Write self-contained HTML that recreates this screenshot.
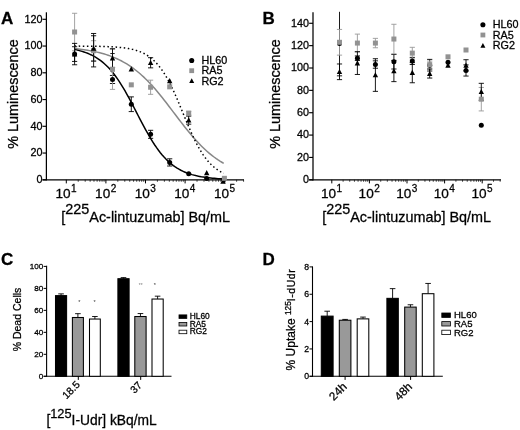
<!DOCTYPE html>
<html lang="en">
<head>
<meta charset="utf-8">
<title>Figure: luminescence, dead cells and uptake panels</title>
<style>
html,body{margin:0;padding:0;background:#fff;}
body{width:520px;height:430px;overflow:hidden;font-family:"Liberation Sans",sans-serif;}
svg{display:block;filter:blur(0.4px);}
svg text{stroke:#000;stroke-width:0.28px;paint-order:stroke;}
svg text.ns{stroke:none;}
</style>
</head>
<body>
<svg width="520" height="430" viewBox="0 0 520 430" font-family="'Liberation Sans', sans-serif">
<rect width="520" height="430" fill="#fff"/>
<text x="0.9" y="24.1" font-size="17" text-anchor="start" font-weight="bold" fill="#000" >A</text>
<line x1="46.4" y1="12.3" x2="46.4" y2="180.4" stroke="#000" stroke-width="1.25" />
<line x1="42.5" y1="179.8" x2="244" y2="179.8" stroke="#000" stroke-width="1.25" />
<line x1="42.5" y1="179.8" x2="46.4" y2="179.8" stroke="#000" stroke-width="1.15" />
<text x="42.4" y="183.1" font-size="10.8" text-anchor="end" font-weight="normal" fill="#000" >0</text>
<line x1="42.5" y1="153.05" x2="46.4" y2="153.05" stroke="#000" stroke-width="1.15" />
<text x="42.4" y="156.35" font-size="10.8" text-anchor="end" font-weight="normal" fill="#000" >20</text>
<line x1="42.5" y1="126.3" x2="46.4" y2="126.3" stroke="#000" stroke-width="1.15" />
<text x="42.4" y="129.6" font-size="10.8" text-anchor="end" font-weight="normal" fill="#000" >40</text>
<line x1="42.5" y1="99.55" x2="46.4" y2="99.55" stroke="#000" stroke-width="1.15" />
<text x="42.4" y="102.85" font-size="10.8" text-anchor="end" font-weight="normal" fill="#000" >60</text>
<line x1="42.5" y1="72.8" x2="46.4" y2="72.8" stroke="#000" stroke-width="1.15" />
<text x="42.4" y="76.1" font-size="10.8" text-anchor="end" font-weight="normal" fill="#000" >80</text>
<line x1="42.5" y1="46.05" x2="46.4" y2="46.05" stroke="#000" stroke-width="1.15" />
<text x="42.4" y="49.35" font-size="10.8" text-anchor="end" font-weight="normal" fill="#000" >100</text>
<line x1="42.5" y1="19.3" x2="46.4" y2="19.3" stroke="#000" stroke-width="1.15" />
<text x="42.4" y="22.6" font-size="10.8" text-anchor="end" font-weight="normal" fill="#000" >120</text>
<line x1="66.3" y1="179.8" x2="66.3" y2="183.4" stroke="#000" stroke-width="1" />
<line x1="78.22" y1="179.8" x2="78.22" y2="181.8" stroke="#000" stroke-width="0.7" />
<line x1="85.19" y1="179.8" x2="85.19" y2="181.8" stroke="#000" stroke-width="0.7" />
<line x1="90.14" y1="179.8" x2="90.14" y2="181.8" stroke="#000" stroke-width="0.7" />
<line x1="93.98" y1="179.8" x2="93.98" y2="181.8" stroke="#000" stroke-width="0.7" />
<line x1="97.11" y1="179.8" x2="97.11" y2="181.8" stroke="#000" stroke-width="0.7" />
<line x1="99.77" y1="179.8" x2="99.77" y2="181.8" stroke="#000" stroke-width="0.7" />
<line x1="102.06" y1="179.8" x2="102.06" y2="181.8" stroke="#000" stroke-width="0.7" />
<line x1="104.09" y1="179.8" x2="104.09" y2="181.8" stroke="#000" stroke-width="0.7" />
<line x1="105.9" y1="179.8" x2="105.9" y2="183.4" stroke="#000" stroke-width="1" />
<line x1="117.82" y1="179.8" x2="117.82" y2="181.8" stroke="#000" stroke-width="0.7" />
<line x1="124.79" y1="179.8" x2="124.79" y2="181.8" stroke="#000" stroke-width="0.7" />
<line x1="129.74" y1="179.8" x2="129.74" y2="181.8" stroke="#000" stroke-width="0.7" />
<line x1="133.58" y1="179.8" x2="133.58" y2="181.8" stroke="#000" stroke-width="0.7" />
<line x1="136.71" y1="179.8" x2="136.71" y2="181.8" stroke="#000" stroke-width="0.7" />
<line x1="139.37" y1="179.8" x2="139.37" y2="181.8" stroke="#000" stroke-width="0.7" />
<line x1="141.66" y1="179.8" x2="141.66" y2="181.8" stroke="#000" stroke-width="0.7" />
<line x1="143.69" y1="179.8" x2="143.69" y2="181.8" stroke="#000" stroke-width="0.7" />
<line x1="145.5" y1="179.8" x2="145.5" y2="183.4" stroke="#000" stroke-width="1" />
<line x1="157.42" y1="179.8" x2="157.42" y2="181.8" stroke="#000" stroke-width="0.7" />
<line x1="164.39" y1="179.8" x2="164.39" y2="181.8" stroke="#000" stroke-width="0.7" />
<line x1="169.34" y1="179.8" x2="169.34" y2="181.8" stroke="#000" stroke-width="0.7" />
<line x1="173.18" y1="179.8" x2="173.18" y2="181.8" stroke="#000" stroke-width="0.7" />
<line x1="176.31" y1="179.8" x2="176.31" y2="181.8" stroke="#000" stroke-width="0.7" />
<line x1="178.97" y1="179.8" x2="178.97" y2="181.8" stroke="#000" stroke-width="0.7" />
<line x1="181.26" y1="179.8" x2="181.26" y2="181.8" stroke="#000" stroke-width="0.7" />
<line x1="183.29" y1="179.8" x2="183.29" y2="181.8" stroke="#000" stroke-width="0.7" />
<line x1="185.1" y1="179.8" x2="185.1" y2="183.4" stroke="#000" stroke-width="1" />
<line x1="197.02" y1="179.8" x2="197.02" y2="181.8" stroke="#000" stroke-width="0.7" />
<line x1="203.99" y1="179.8" x2="203.99" y2="181.8" stroke="#000" stroke-width="0.7" />
<line x1="208.94" y1="179.8" x2="208.94" y2="181.8" stroke="#000" stroke-width="0.7" />
<line x1="212.78" y1="179.8" x2="212.78" y2="181.8" stroke="#000" stroke-width="0.7" />
<line x1="215.91" y1="179.8" x2="215.91" y2="181.8" stroke="#000" stroke-width="0.7" />
<line x1="218.57" y1="179.8" x2="218.57" y2="181.8" stroke="#000" stroke-width="0.7" />
<line x1="220.86" y1="179.8" x2="220.86" y2="181.8" stroke="#000" stroke-width="0.7" />
<line x1="222.89" y1="179.8" x2="222.89" y2="181.8" stroke="#000" stroke-width="0.7" />
<line x1="224.7" y1="179.8" x2="224.7" y2="183.4" stroke="#000" stroke-width="1" />
<line x1="236.62" y1="179.8" x2="236.62" y2="181.8" stroke="#000" stroke-width="0.7" />
<line x1="243.59" y1="179.8" x2="243.59" y2="181.8" stroke="#000" stroke-width="0.7" />
<text x="55.5" y="198.2" font-size="13.6">10<tspan font-size="10" dy="-6.3" dx="0.4">1</tspan></text>
<text x="95.1" y="198.2" font-size="13.6">10<tspan font-size="10" dy="-6.3" dx="0.4">2</tspan></text>
<text x="134.7" y="198.2" font-size="13.6">10<tspan font-size="10" dy="-6.3" dx="0.4">3</tspan></text>
<text x="174.3" y="198.2" font-size="13.6">10<tspan font-size="10" dy="-6.3" dx="0.4">4</tspan></text>
<text x="213.9" y="198.2" font-size="13.6">10<tspan font-size="10" dy="-6.3" dx="0.4">5</tspan></text>
<text transform="translate(18.2,94) rotate(-90)" font-size="14.4" text-anchor="middle">% Luminescence</text>
<text x="145.7" y="221.6" font-size="14.4" text-anchor="middle">[<tspan dy="-7.8" font-size="14.4">225</tspan><tspan dy="7.8">Ac-lintuzumab] Bq/mL</tspan></text>
<polyline points="74.6,48.62 76.46,48.82 78.33,49.02 80.19,49.25 82.05,49.49 83.92,49.74 85.78,50.01 87.65,50.31 89.51,50.62 91.37,50.96 93.24,51.32 95.1,51.71 96.96,52.12 98.83,52.56 100.69,53.03 102.56,53.54 104.42,54.07 106.28,54.65 108.15,55.26 110.01,55.91 111.88,56.61 113.74,57.35 115.6,58.13 117.47,58.97 119.33,59.85 121.19,60.79 123.06,61.79 124.92,62.84 126.78,63.95 128.65,65.13 130.51,66.36 132.38,67.67 134.24,69.04 136.1,70.47 137.97,71.98 139.83,73.55 141.69,75.2 143.56,76.91 145.42,78.7 147.29,80.55 149.15,82.47 151.01,84.45 152.88,86.5 154.74,88.61 156.61,90.78 158.47,93 160.33,95.27 162.2,97.58 164.06,99.93 165.92,102.32 167.79,104.74 169.65,107.17 171.51,109.63 173.38,112.09 175.24,114.55 177.11,117.01 178.97,119.46 180.83,121.89 182.7,124.3 184.56,126.67 186.42,129.01 188.29,131.31 190.15,133.57 192.02,135.77 193.88,137.92 195.74,140.01 197.61,142.04 199.47,144 201.33,145.9 203.2,147.73 205.06,149.49 206.93,151.19 208.79,152.81 210.65,154.36 212.52,155.85 214.38,157.26 216.25,158.61 218.11,159.89 219.97,161.11 221.84,162.26 223.7,163.35" fill="none" stroke="#878787" stroke-width="1.5"/>
<polyline points="74.6,46.1 76.46,46.11 78.33,46.12 80.19,46.13 82.05,46.14 83.92,46.15 85.78,46.16 87.65,46.18 89.51,46.2 91.37,46.22 93.24,46.25 95.1,46.28 96.96,46.31 98.83,46.35 100.69,46.39 102.56,46.44 104.42,46.49 106.28,46.56 108.15,46.63 110.01,46.71 111.88,46.81 113.74,46.92 115.6,47.05 117.47,47.19 119.33,47.35 121.19,47.54 123.06,47.75 124.92,48 126.78,48.27 128.65,48.59 130.51,48.95 132.38,49.36 134.24,49.83 136.1,50.36 137.97,50.96 139.83,51.64 141.69,52.41 143.56,53.29 145.42,54.27 147.29,55.38 149.15,56.63 151.01,58.03 152.88,59.59 154.74,61.33 156.61,63.26 158.47,65.39 160.33,67.75 162.2,70.32 164.06,73.13 165.92,76.17 167.79,79.45 169.65,82.96 171.51,86.69 173.38,90.62 175.24,94.73 177.11,99 178.97,103.39 180.83,107.86 182.7,112.38 184.56,116.9 186.42,121.39 188.29,125.81 190.15,130.1 192.02,134.26 193.88,138.23 195.74,142.01 197.61,145.57 199.47,148.91 201.33,152.01 203.2,154.87 205.06,157.5 206.93,159.91 208.79,162.1 210.65,164.07 212.52,165.86 214.38,167.46 216.25,168.9 218.11,170.18 219.97,171.32 221.84,172.34 223.7,173.23" fill="none" stroke="#000" stroke-width="1.5" stroke-dasharray="1.5 2.6"/>
<polyline points="74.6,49.55 76.46,49.94 78.33,50.37 80.19,50.85 82.05,51.38 83.92,51.96 85.78,52.6 87.65,53.31 89.51,54.09 91.37,54.95 93.24,55.9 95.1,56.93 96.96,58.07 98.83,59.31 100.69,60.66 102.56,62.13 104.42,63.73 106.28,65.45 108.15,67.32 110.01,69.33 111.88,71.49 113.74,73.8 115.6,76.26 117.47,78.87 119.33,81.62 121.19,84.53 123.06,87.56 124.92,90.73 126.78,94.01 128.65,97.39 130.51,100.86 132.38,104.39 134.24,107.98 136.1,111.59 137.97,115.22 139.83,118.83 141.69,122.4 143.56,125.92 145.42,129.37 147.29,132.73 149.15,135.98 151.01,139.11 152.88,142.11 154.74,144.97 156.61,147.69 158.47,150.26 160.33,152.68 162.2,154.95 164.06,157.07 165.92,159.04 167.79,160.87 169.65,162.56 171.51,164.12 173.38,165.56 175.24,166.88 177.11,168.09 178.97,169.2 180.83,170.21 182.7,171.13 184.56,171.97 186.42,172.73 188.29,173.42 190.15,174.05 192.02,174.62 193.88,175.13 195.74,175.6 197.61,176.02 199.47,176.39 201.33,176.74 203.2,177.04 205.06,177.32 206.93,177.57 208.79,177.8 210.65,178 212.52,178.18 214.38,178.35 216.25,178.5 218.11,178.63 219.97,178.75 221.84,178.85 223.7,178.95" fill="none" stroke="#000" stroke-width="1.5"/>
<line x1="74.6" y1="46.72" x2="74.6" y2="61.43" stroke="#000" stroke-width="0.9" />
<line x1="72" y1="46.72" x2="77.2" y2="46.72" stroke="#000" stroke-width="0.9" />
<line x1="72" y1="61.43" x2="77.2" y2="61.43" stroke="#000" stroke-width="0.9" />
<line x1="74.6" y1="13.28" x2="74.6" y2="50.73" stroke="#999999" stroke-width="0.9" />
<line x1="72" y1="13.28" x2="77.2" y2="13.28" stroke="#999999" stroke-width="0.9" />
<line x1="72" y1="50.73" x2="77.2" y2="50.73" stroke="#999999" stroke-width="0.9" />
<line x1="74.6" y1="43.38" x2="74.6" y2="64.78" stroke="#000" stroke-width="0.9" />
<line x1="72" y1="43.38" x2="77.2" y2="43.38" stroke="#000" stroke-width="0.9" />
<line x1="72" y1="64.78" x2="77.2" y2="64.78" stroke="#000" stroke-width="0.9" />
<polygon points="74.6,51.25 71.9,56.38 77.3,56.38" fill="#000"/>
<rect x="72.1" y="29.51" width="5" height="5" fill="#929292"/>
<circle cx="74.6" cy="54.08" r="2.5" fill="#000"/>
<line x1="93.6" y1="33.48" x2="93.6" y2="66.92" stroke="#000" stroke-width="0.9" />
<line x1="91" y1="33.48" x2="96.2" y2="33.48" stroke="#000" stroke-width="0.9" />
<line x1="91" y1="66.92" x2="96.2" y2="66.92" stroke="#000" stroke-width="0.9" />
<line x1="93.6" y1="40.7" x2="93.6" y2="60.76" stroke="#999999" stroke-width="0.9" />
<line x1="91" y1="40.7" x2="96.2" y2="40.7" stroke="#999999" stroke-width="0.9" />
<line x1="91" y1="60.76" x2="96.2" y2="60.76" stroke="#999999" stroke-width="0.9" />
<line x1="93.6" y1="35.75" x2="93.6" y2="61.16" stroke="#000" stroke-width="0.9" />
<line x1="91" y1="35.75" x2="96.2" y2="35.75" stroke="#000" stroke-width="0.9" />
<line x1="91" y1="61.16" x2="96.2" y2="61.16" stroke="#000" stroke-width="0.9" />
<circle cx="93.6" cy="50.2" r="2.5" fill="#000"/>
<rect x="91.1" y="48.23" width="5" height="5" fill="#929292"/>
<polygon points="93.6,45.64 90.9,50.77 96.3,50.77" fill="#000"/>
<line x1="112.5" y1="75.48" x2="112.5" y2="83.5" stroke="#000" stroke-width="0.9" />
<line x1="109.9" y1="75.48" x2="115.1" y2="75.48" stroke="#000" stroke-width="0.9" />
<line x1="109.9" y1="83.5" x2="115.1" y2="83.5" stroke="#000" stroke-width="0.9" />
<line x1="112.5" y1="49.26" x2="112.5" y2="89.39" stroke="#999999" stroke-width="0.9" />
<line x1="109.9" y1="49.26" x2="115.1" y2="49.26" stroke="#999999" stroke-width="0.9" />
<line x1="109.9" y1="89.39" x2="115.1" y2="89.39" stroke="#999999" stroke-width="0.9" />
<line x1="112.5" y1="48.73" x2="112.5" y2="67.45" stroke="#000" stroke-width="0.9" />
<line x1="109.9" y1="48.73" x2="115.1" y2="48.73" stroke="#000" stroke-width="0.9" />
<line x1="109.9" y1="67.45" x2="115.1" y2="67.45" stroke="#000" stroke-width="0.9" />
<circle cx="112.5" cy="79.49" r="2.5" fill="#000"/>
<rect x="110" y="66.82" width="5" height="5" fill="#929292"/>
<polygon points="112.5,55.27 109.8,60.4 115.2,60.4" fill="#000"/>
<line x1="131.3" y1="96.88" x2="131.3" y2="111.59" stroke="#000" stroke-width="0.9" />
<line x1="128.7" y1="96.88" x2="133.9" y2="96.88" stroke="#000" stroke-width="0.9" />
<line x1="128.7" y1="111.59" x2="133.9" y2="111.59" stroke="#000" stroke-width="0.9" />
<circle cx="131.3" cy="104.23" r="2.5" fill="#000"/>
<rect x="128.8" y="82.34" width="5" height="5" fill="#929292"/>
<polygon points="131.3,66.37 128.6,71.5 134,71.5" fill="#000"/>
<line x1="150.6" y1="130.31" x2="150.6" y2="138.34" stroke="#000" stroke-width="0.9" />
<line x1="148" y1="130.31" x2="153.2" y2="130.31" stroke="#000" stroke-width="0.9" />
<line x1="148" y1="138.34" x2="153.2" y2="138.34" stroke="#000" stroke-width="0.9" />
<line x1="150.6" y1="80.16" x2="150.6" y2="94.33" stroke="#999999" stroke-width="0.9" />
<line x1="148" y1="80.16" x2="153.2" y2="80.16" stroke="#999999" stroke-width="0.9" />
<line x1="148" y1="94.33" x2="153.2" y2="94.33" stroke="#999999" stroke-width="0.9" />
<line x1="150.6" y1="57.69" x2="150.6" y2="67.85" stroke="#000" stroke-width="0.9" />
<line x1="148" y1="57.69" x2="153.2" y2="57.69" stroke="#000" stroke-width="0.9" />
<line x1="148" y1="67.85" x2="153.2" y2="67.85" stroke="#000" stroke-width="0.9" />
<circle cx="150.6" cy="134.33" r="2.5" fill="#000"/>
<rect x="148.1" y="84.75" width="5" height="5" fill="#929292"/>
<polygon points="150.6,59.95 147.9,65.08 153.3,65.08" fill="#000"/>
<line x1="169.7" y1="158.8" x2="169.7" y2="166.02" stroke="#000" stroke-width="0.9" />
<line x1="167.1" y1="158.8" x2="172.3" y2="158.8" stroke="#000" stroke-width="0.9" />
<line x1="167.1" y1="166.02" x2="172.3" y2="166.02" stroke="#000" stroke-width="0.9" />
<circle cx="169.7" cy="162.41" r="2.5" fill="#000"/>
<rect x="167.2" y="84.34" width="5" height="5" fill="#929292"/>
<polygon points="169.7,78 167,83.13 172.4,83.13" fill="#000"/>
<line x1="188.7" y1="111.32" x2="188.7" y2="115.07" stroke="#999999" stroke-width="0.9" />
<line x1="186.1" y1="111.32" x2="191.3" y2="111.32" stroke="#999999" stroke-width="0.9" />
<line x1="186.1" y1="115.07" x2="191.3" y2="115.07" stroke="#999999" stroke-width="0.9" />
<line x1="188.7" y1="116.14" x2="188.7" y2="124.16" stroke="#000" stroke-width="0.9" />
<line x1="186.1" y1="116.14" x2="191.3" y2="116.14" stroke="#000" stroke-width="0.9" />
<line x1="186.1" y1="124.16" x2="191.3" y2="124.16" stroke="#000" stroke-width="0.9" />
<circle cx="188.7" cy="173.65" r="2.5" fill="#000"/>
<rect x="186.2" y="110.69" width="5" height="5" fill="#929292"/>
<polygon points="188.7,117.33 186,122.46 191.4,122.46" fill="#000"/>
<circle cx="206.7" cy="178.46" r="2.5" fill="#000"/>
<polygon points="206.7,170.02 204,175.15 209.4,175.15" fill="#000"/>
<circle cx="223.7" cy="179.4" r="2.5" fill="#000"/>
<polygon points="223,178.72 220.3,183.85 225.7,183.85" fill="#000"/>
<rect x="221.9" y="175.83" width="5" height="5" fill="#929292"/>
<line x1="110.3" y1="53.54" x2="114.7" y2="53.54" stroke="#000" stroke-width="0.9" />
<circle cx="191.7" cy="60.5" r="2.55" fill="#000"/>
<rect x="189.3" y="68.3" width="4.8" height="4.8" fill="#929292"/>
<polygon points="191.7,78.29 189.2,83.04 194.2,83.04" fill="#000"/>
<text x="201.4" y="64.1" font-size="10.8" text-anchor="start" font-weight="normal" fill="#000" >HL60</text>
<text x="201.4" y="74.3" font-size="10.8" text-anchor="start" font-weight="normal" fill="#000" >RA5</text>
<text x="201.4" y="84.5" font-size="10.8" text-anchor="start" font-weight="normal" fill="#000" >RG2</text>
<text x="262.4" y="24.1" font-size="17" text-anchor="start" font-weight="bold" fill="#000" >B</text>
<line x1="313" y1="12.3" x2="313" y2="180.4" stroke="#000" stroke-width="1.25" />
<line x1="309.1" y1="179.8" x2="501" y2="179.8" stroke="#000" stroke-width="1.25" />
<line x1="309.1" y1="179.8" x2="313" y2="179.8" stroke="#000" stroke-width="1.15" />
<text x="309" y="183.1" font-size="10.8" text-anchor="end" font-weight="normal" fill="#000" >0</text>
<line x1="309.1" y1="157.44" x2="313" y2="157.44" stroke="#000" stroke-width="1.15" />
<text x="309" y="160.74" font-size="10.8" text-anchor="end" font-weight="normal" fill="#000" >20</text>
<line x1="309.1" y1="135.08" x2="313" y2="135.08" stroke="#000" stroke-width="1.15" />
<text x="309" y="138.38" font-size="10.8" text-anchor="end" font-weight="normal" fill="#000" >40</text>
<line x1="309.1" y1="112.72" x2="313" y2="112.72" stroke="#000" stroke-width="1.15" />
<text x="309" y="116.02" font-size="10.8" text-anchor="end" font-weight="normal" fill="#000" >60</text>
<line x1="309.1" y1="90.36" x2="313" y2="90.36" stroke="#000" stroke-width="1.15" />
<text x="309" y="93.66" font-size="10.8" text-anchor="end" font-weight="normal" fill="#000" >80</text>
<line x1="309.1" y1="68" x2="313" y2="68" stroke="#000" stroke-width="1.15" />
<text x="309" y="71.3" font-size="10.8" text-anchor="end" font-weight="normal" fill="#000" >100</text>
<line x1="309.1" y1="45.64" x2="313" y2="45.64" stroke="#000" stroke-width="1.15" />
<text x="309" y="48.94" font-size="10.8" text-anchor="end" font-weight="normal" fill="#000" >120</text>
<line x1="309.1" y1="23.28" x2="313" y2="23.28" stroke="#000" stroke-width="1.15" />
<text x="309" y="26.58" font-size="10.8" text-anchor="end" font-weight="normal" fill="#000" >140</text>
<line x1="331.8" y1="179.8" x2="331.8" y2="183.4" stroke="#000" stroke-width="1" />
<line x1="343.12" y1="179.8" x2="343.12" y2="181.8" stroke="#000" stroke-width="0.7" />
<line x1="349.74" y1="179.8" x2="349.74" y2="181.8" stroke="#000" stroke-width="0.7" />
<line x1="354.44" y1="179.8" x2="354.44" y2="181.8" stroke="#000" stroke-width="0.7" />
<line x1="358.08" y1="179.8" x2="358.08" y2="181.8" stroke="#000" stroke-width="0.7" />
<line x1="361.06" y1="179.8" x2="361.06" y2="181.8" stroke="#000" stroke-width="0.7" />
<line x1="363.58" y1="179.8" x2="363.58" y2="181.8" stroke="#000" stroke-width="0.7" />
<line x1="365.76" y1="179.8" x2="365.76" y2="181.8" stroke="#000" stroke-width="0.7" />
<line x1="367.68" y1="179.8" x2="367.68" y2="181.8" stroke="#000" stroke-width="0.7" />
<line x1="369.4" y1="179.8" x2="369.4" y2="183.4" stroke="#000" stroke-width="1" />
<line x1="380.72" y1="179.8" x2="380.72" y2="181.8" stroke="#000" stroke-width="0.7" />
<line x1="387.34" y1="179.8" x2="387.34" y2="181.8" stroke="#000" stroke-width="0.7" />
<line x1="392.04" y1="179.8" x2="392.04" y2="181.8" stroke="#000" stroke-width="0.7" />
<line x1="395.68" y1="179.8" x2="395.68" y2="181.8" stroke="#000" stroke-width="0.7" />
<line x1="398.66" y1="179.8" x2="398.66" y2="181.8" stroke="#000" stroke-width="0.7" />
<line x1="401.18" y1="179.8" x2="401.18" y2="181.8" stroke="#000" stroke-width="0.7" />
<line x1="403.36" y1="179.8" x2="403.36" y2="181.8" stroke="#000" stroke-width="0.7" />
<line x1="405.28" y1="179.8" x2="405.28" y2="181.8" stroke="#000" stroke-width="0.7" />
<line x1="407" y1="179.8" x2="407" y2="183.4" stroke="#000" stroke-width="1" />
<line x1="418.32" y1="179.8" x2="418.32" y2="181.8" stroke="#000" stroke-width="0.7" />
<line x1="424.94" y1="179.8" x2="424.94" y2="181.8" stroke="#000" stroke-width="0.7" />
<line x1="429.64" y1="179.8" x2="429.64" y2="181.8" stroke="#000" stroke-width="0.7" />
<line x1="433.28" y1="179.8" x2="433.28" y2="181.8" stroke="#000" stroke-width="0.7" />
<line x1="436.26" y1="179.8" x2="436.26" y2="181.8" stroke="#000" stroke-width="0.7" />
<line x1="438.78" y1="179.8" x2="438.78" y2="181.8" stroke="#000" stroke-width="0.7" />
<line x1="440.96" y1="179.8" x2="440.96" y2="181.8" stroke="#000" stroke-width="0.7" />
<line x1="442.88" y1="179.8" x2="442.88" y2="181.8" stroke="#000" stroke-width="0.7" />
<line x1="444.6" y1="179.8" x2="444.6" y2="183.4" stroke="#000" stroke-width="1" />
<line x1="455.92" y1="179.8" x2="455.92" y2="181.8" stroke="#000" stroke-width="0.7" />
<line x1="462.54" y1="179.8" x2="462.54" y2="181.8" stroke="#000" stroke-width="0.7" />
<line x1="467.24" y1="179.8" x2="467.24" y2="181.8" stroke="#000" stroke-width="0.7" />
<line x1="470.88" y1="179.8" x2="470.88" y2="181.8" stroke="#000" stroke-width="0.7" />
<line x1="473.86" y1="179.8" x2="473.86" y2="181.8" stroke="#000" stroke-width="0.7" />
<line x1="476.38" y1="179.8" x2="476.38" y2="181.8" stroke="#000" stroke-width="0.7" />
<line x1="478.56" y1="179.8" x2="478.56" y2="181.8" stroke="#000" stroke-width="0.7" />
<line x1="480.48" y1="179.8" x2="480.48" y2="181.8" stroke="#000" stroke-width="0.7" />
<line x1="482.2" y1="179.8" x2="482.2" y2="183.4" stroke="#000" stroke-width="1" />
<line x1="493.52" y1="179.8" x2="493.52" y2="181.8" stroke="#000" stroke-width="0.7" />
<line x1="500.14" y1="179.8" x2="500.14" y2="181.8" stroke="#000" stroke-width="0.7" />
<text x="321" y="198.2" font-size="13.6">10<tspan font-size="10" dy="-6.3" dx="0.4">1</tspan></text>
<text x="358.6" y="198.2" font-size="13.6">10<tspan font-size="10" dy="-6.3" dx="0.4">2</tspan></text>
<text x="396.2" y="198.2" font-size="13.6">10<tspan font-size="10" dy="-6.3" dx="0.4">3</tspan></text>
<text x="433.8" y="198.2" font-size="13.6">10<tspan font-size="10" dy="-6.3" dx="0.4">4</tspan></text>
<text x="471.4" y="198.2" font-size="13.6">10<tspan font-size="10" dy="-6.3" dx="0.4">5</tspan></text>
<text transform="translate(279.5,94) rotate(-90)" font-size="14.4" text-anchor="middle">% Luminescence</text>
<text x="406.6" y="221.6" font-size="14.4" text-anchor="middle">[<tspan dy="-7.8" font-size="14.4">225</tspan><tspan dy="7.8">Ac-lintuzumab] Bq/mL</tspan></text>
<line x1="339.5" y1="11.8" x2="339.5" y2="75.83" stroke="#000" stroke-width="0.9" />
<line x1="336.9" y1="75.83" x2="342.1" y2="75.83" stroke="#000" stroke-width="0.9" />
<line x1="339.5" y1="29.43" x2="339.5" y2="55.14" stroke="#999999" stroke-width="0.9" />
<line x1="336.9" y1="29.43" x2="342.1" y2="29.43" stroke="#999999" stroke-width="0.9" />
<line x1="336.9" y1="55.14" x2="342.1" y2="55.14" stroke="#999999" stroke-width="0.9" />
<line x1="339.5" y1="63.98" x2="339.5" y2="79.63" stroke="#000" stroke-width="0.9" />
<line x1="336.9" y1="63.98" x2="342.1" y2="63.98" stroke="#000" stroke-width="0.9" />
<line x1="336.9" y1="79.63" x2="342.1" y2="79.63" stroke="#000" stroke-width="0.9" />
<circle cx="339.5" cy="43.4" r="2.5" fill="#000"/>
<rect x="337" y="39.79" width="5" height="5" fill="#929292"/>
<polygon points="339.5,68.98 336.8,74.11 342.2,74.11" fill="#000"/>
<line x1="357.4" y1="55.93" x2="357.4" y2="60.4" stroke="#000" stroke-width="0.9" />
<line x1="354.8" y1="55.93" x2="360" y2="55.93" stroke="#000" stroke-width="0.9" />
<line x1="354.8" y1="60.4" x2="360" y2="60.4" stroke="#000" stroke-width="0.9" />
<line x1="357.4" y1="34.12" x2="357.4" y2="52.01" stroke="#999999" stroke-width="0.9" />
<line x1="354.8" y1="34.12" x2="360" y2="34.12" stroke="#999999" stroke-width="0.9" />
<line x1="354.8" y1="52.01" x2="360" y2="52.01" stroke="#999999" stroke-width="0.9" />
<line x1="357.4" y1="51.68" x2="357.4" y2="74.48" stroke="#000" stroke-width="0.9" />
<line x1="354.8" y1="51.68" x2="360" y2="51.68" stroke="#000" stroke-width="0.9" />
<line x1="354.8" y1="74.48" x2="360" y2="74.48" stroke="#000" stroke-width="0.9" />
<circle cx="357.4" cy="58.16" r="2.5" fill="#000"/>
<rect x="354.9" y="40.57" width="5" height="5" fill="#929292"/>
<polygon points="357.4,60.26 354.7,65.39 360.1,65.39" fill="#000"/>
<line x1="375.4" y1="60.84" x2="375.4" y2="68.22" stroke="#000" stroke-width="0.9" />
<line x1="372.8" y1="60.84" x2="378" y2="60.84" stroke="#000" stroke-width="0.9" />
<line x1="372.8" y1="68.22" x2="378" y2="68.22" stroke="#000" stroke-width="0.9" />
<line x1="375.4" y1="38.37" x2="375.4" y2="47.76" stroke="#999999" stroke-width="0.9" />
<line x1="372.8" y1="38.37" x2="378" y2="38.37" stroke="#999999" stroke-width="0.9" />
<line x1="372.8" y1="47.76" x2="378" y2="47.76" stroke="#999999" stroke-width="0.9" />
<line x1="375.4" y1="58.72" x2="375.4" y2="91.37" stroke="#000" stroke-width="0.9" />
<line x1="372.8" y1="58.72" x2="378" y2="58.72" stroke="#000" stroke-width="0.9" />
<line x1="372.8" y1="91.37" x2="378" y2="91.37" stroke="#000" stroke-width="0.9" />
<circle cx="375.4" cy="64.53" r="2.5" fill="#000"/>
<rect x="372.9" y="40.57" width="5" height="5" fill="#929292"/>
<polygon points="375.4,72.22 372.7,77.35 378.1,77.35" fill="#000"/>
<line x1="393.9" y1="54.47" x2="393.9" y2="69.01" stroke="#000" stroke-width="0.9" />
<line x1="391.3" y1="54.47" x2="396.5" y2="54.47" stroke="#000" stroke-width="0.9" />
<line x1="391.3" y1="69.01" x2="396.5" y2="69.01" stroke="#000" stroke-width="0.9" />
<line x1="393.9" y1="24.29" x2="393.9" y2="53.8" stroke="#999999" stroke-width="0.9" />
<line x1="391.3" y1="24.29" x2="396.5" y2="24.29" stroke="#999999" stroke-width="0.9" />
<line x1="391.3" y1="53.8" x2="396.5" y2="53.8" stroke="#999999" stroke-width="0.9" />
<line x1="393.9" y1="60.4" x2="393.9" y2="81.64" stroke="#000" stroke-width="0.9" />
<line x1="391.3" y1="60.4" x2="396.5" y2="60.4" stroke="#000" stroke-width="0.9" />
<line x1="391.3" y1="81.64" x2="396.5" y2="81.64" stroke="#000" stroke-width="0.9" />
<circle cx="393.9" cy="61.74" r="2.5" fill="#000"/>
<rect x="391.4" y="36.54" width="5" height="5" fill="#929292"/>
<polygon points="393.9,68.2 391.2,73.33 396.6,73.33" fill="#000"/>
<line x1="412.3" y1="57.38" x2="412.3" y2="64.53" stroke="#000" stroke-width="0.9" />
<line x1="409.7" y1="57.38" x2="414.9" y2="57.38" stroke="#000" stroke-width="0.9" />
<line x1="409.7" y1="64.53" x2="414.9" y2="64.53" stroke="#000" stroke-width="0.9" />
<line x1="412.3" y1="47.32" x2="412.3" y2="58.94" stroke="#999999" stroke-width="0.9" />
<line x1="409.7" y1="47.32" x2="414.9" y2="47.32" stroke="#999999" stroke-width="0.9" />
<line x1="409.7" y1="58.94" x2="414.9" y2="58.94" stroke="#999999" stroke-width="0.9" />
<line x1="412.3" y1="62.63" x2="412.3" y2="82.76" stroke="#000" stroke-width="0.9" />
<line x1="409.7" y1="62.63" x2="414.9" y2="62.63" stroke="#000" stroke-width="0.9" />
<line x1="409.7" y1="82.76" x2="414.9" y2="82.76" stroke="#000" stroke-width="0.9" />
<circle cx="412.3" cy="60.96" r="2.5" fill="#000"/>
<rect x="409.8" y="50.63" width="5" height="5" fill="#929292"/>
<polygon points="412.3,69.87 409.6,75 415,75" fill="#000"/>
<line x1="429.7" y1="59.39" x2="429.7" y2="71.02" stroke="#000" stroke-width="0.9" />
<line x1="427.1" y1="59.39" x2="432.3" y2="59.39" stroke="#000" stroke-width="0.9" />
<line x1="427.1" y1="71.02" x2="432.3" y2="71.02" stroke="#000" stroke-width="0.9" />
<line x1="429.7" y1="61.07" x2="429.7" y2="68.22" stroke="#999999" stroke-width="0.9" />
<line x1="427.1" y1="61.07" x2="432.3" y2="61.07" stroke="#999999" stroke-width="0.9" />
<line x1="427.1" y1="68.22" x2="432.3" y2="68.22" stroke="#999999" stroke-width="0.9" />
<line x1="429.7" y1="69.12" x2="429.7" y2="78.06" stroke="#000" stroke-width="0.9" />
<line x1="427.1" y1="69.12" x2="432.3" y2="69.12" stroke="#000" stroke-width="0.9" />
<line x1="427.1" y1="78.06" x2="432.3" y2="78.06" stroke="#000" stroke-width="0.9" />
<circle cx="429.7" cy="65.2" r="2.5" fill="#000"/>
<rect x="427.2" y="62.15" width="5" height="5" fill="#929292"/>
<polygon points="429.7,70.77 427,75.9 432.4,75.9" fill="#000"/>
<circle cx="448" cy="62.3" r="2.5" fill="#000"/>
<rect x="445.5" y="54.32" width="5" height="5" fill="#929292"/>
<polygon points="448,62.5 445.3,67.63 450.7,67.63" fill="#000"/>
<line x1="466" y1="64.87" x2="466" y2="76.05" stroke="#000" stroke-width="0.9" />
<line x1="463.4" y1="64.87" x2="468.6" y2="64.87" stroke="#000" stroke-width="0.9" />
<line x1="463.4" y1="76.05" x2="468.6" y2="76.05" stroke="#000" stroke-width="0.9" />
<line x1="466" y1="59.73" x2="466" y2="70.91" stroke="#000" stroke-width="0.9" />
<line x1="463.4" y1="59.73" x2="468.6" y2="59.73" stroke="#000" stroke-width="0.9" />
<line x1="463.4" y1="70.91" x2="468.6" y2="70.91" stroke="#000" stroke-width="0.9" />
<circle cx="466" cy="70.46" r="2.5" fill="#000"/>
<rect x="463.5" y="47.5" width="5" height="5" fill="#929292"/>
<polygon points="466,62.5 463.3,67.63 468.7,67.63" fill="#000"/>
<line x1="481.3" y1="87.45" x2="481.3" y2="110.93" stroke="#999999" stroke-width="0.9" />
<line x1="478.7" y1="87.45" x2="483.9" y2="87.45" stroke="#999999" stroke-width="0.9" />
<line x1="478.7" y1="110.93" x2="483.9" y2="110.93" stroke="#999999" stroke-width="0.9" />
<line x1="481.3" y1="83.32" x2="481.3" y2="100.31" stroke="#000" stroke-width="0.9" />
<line x1="478.7" y1="83.32" x2="483.9" y2="83.32" stroke="#000" stroke-width="0.9" />
<line x1="478.7" y1="100.31" x2="483.9" y2="100.31" stroke="#000" stroke-width="0.9" />
<circle cx="481.3" cy="125.13" r="2.5" fill="#000"/>
<rect x="478.8" y="96.69" width="5" height="5" fill="#929292"/>
<polygon points="481.3,88.99 478.6,94.12 484,94.12" fill="#000"/>
<circle cx="482.9" cy="24.7" r="2.55" fill="#000"/>
<rect x="480.5" y="32.6" width="4.8" height="4.8" fill="#929292"/>
<polygon points="482.9,42.89 480.4,47.64 485.4,47.64" fill="#000"/>
<text x="492.8" y="28.3" font-size="10.8" text-anchor="start" font-weight="normal" fill="#000" >HL60</text>
<text x="492.8" y="38.6" font-size="10.8" text-anchor="start" font-weight="normal" fill="#000" >RA5</text>
<text x="492.8" y="49.1" font-size="10.8" text-anchor="start" font-weight="normal" fill="#000" >RG2</text>
<text x="1" y="265.1" font-size="17" text-anchor="start" font-weight="bold" fill="#000" >C</text>
<line x1="46.6" y1="265.8" x2="46.6" y2="376.8" stroke="#000" stroke-width="1.1" />
<line x1="43.6" y1="376.3" x2="171.5" y2="376.3" stroke="#000" stroke-width="1.1" />
<line x1="43.6" y1="376.3" x2="46.6" y2="376.3" stroke="#000" stroke-width="1" />
<text x="43.2" y="378.9" font-size="8.1" text-anchor="end" font-weight="normal" fill="#000" >0</text>
<line x1="43.6" y1="354.32" x2="46.6" y2="354.32" stroke="#000" stroke-width="1" />
<text x="43.2" y="356.92" font-size="8.1" text-anchor="end" font-weight="normal" fill="#000" >20</text>
<line x1="43.6" y1="332.34" x2="46.6" y2="332.34" stroke="#000" stroke-width="1" />
<text x="43.2" y="334.94" font-size="8.1" text-anchor="end" font-weight="normal" fill="#000" >40</text>
<line x1="43.6" y1="310.36" x2="46.6" y2="310.36" stroke="#000" stroke-width="1" />
<text x="43.2" y="312.96" font-size="8.1" text-anchor="end" font-weight="normal" fill="#000" >60</text>
<line x1="43.6" y1="288.38" x2="46.6" y2="288.38" stroke="#000" stroke-width="1" />
<text x="43.2" y="290.98" font-size="8.1" text-anchor="end" font-weight="normal" fill="#000" >80</text>
<line x1="43.6" y1="266.4" x2="46.6" y2="266.4" stroke="#000" stroke-width="1" />
<text x="43.2" y="269" font-size="8.1" text-anchor="end" font-weight="normal" fill="#000" >100</text>
<text transform="translate(21,319.5) rotate(-90)" font-size="10.5" text-anchor="middle">% Dead Cells</text>
<line x1="61.05" y1="293.88" x2="61.05" y2="295.63" stroke="#000" stroke-width="0.9" />
<line x1="58.25" y1="293.88" x2="63.85" y2="293.88" stroke="#000" stroke-width="0.9" />
<rect x="55.5" y="295.63" width="11.1" height="80.67" fill="#000" stroke="#000" stroke-width="1.05"/>
<line x1="77.9" y1="313.66" x2="77.9" y2="317.5" stroke="#000" stroke-width="0.9" />
<line x1="75.1" y1="313.66" x2="80.7" y2="313.66" stroke="#000" stroke-width="0.9" />
<rect x="72.4" y="317.5" width="11" height="58.8" fill="#999999" stroke="#000" stroke-width="1.05"/>
<line x1="94.9" y1="316.51" x2="94.9" y2="319.04" stroke="#000" stroke-width="0.9" />
<line x1="92.1" y1="316.51" x2="97.7" y2="316.51" stroke="#000" stroke-width="0.9" />
<rect x="89.5" y="319.04" width="10.8" height="57.26" fill="#fff" stroke="#000" stroke-width="1.05"/>
<line x1="123.5" y1="277.61" x2="123.5" y2="278.71" stroke="#000" stroke-width="0.9" />
<line x1="120.7" y1="277.61" x2="126.3" y2="277.61" stroke="#000" stroke-width="0.9" />
<rect x="117.9" y="278.71" width="11.2" height="97.59" fill="#000" stroke="#000" stroke-width="1.05"/>
<line x1="140.45" y1="313.55" x2="140.45" y2="316.51" stroke="#000" stroke-width="0.9" />
<line x1="137.65" y1="313.55" x2="143.25" y2="313.55" stroke="#000" stroke-width="0.9" />
<rect x="134.8" y="316.51" width="11.3" height="59.79" fill="#999999" stroke="#000" stroke-width="1.05"/>
<line x1="157.6" y1="296.18" x2="157.6" y2="299.04" stroke="#000" stroke-width="0.9" />
<line x1="154.8" y1="296.18" x2="160.4" y2="296.18" stroke="#000" stroke-width="0.9" />
<rect x="152" y="299.04" width="11.2" height="77.26" fill="#fff" stroke="#000" stroke-width="1.05"/>
<line x1="78.3" y1="376.3" x2="78.3" y2="379.9" stroke="#000" stroke-width="1" />
<line x1="140.7" y1="376.3" x2="140.7" y2="379.9" stroke="#000" stroke-width="1" />
<text transform="translate(80.6,385.3) rotate(-45)" font-size="10.3" text-anchor="end">18.5</text>
<text transform="translate(142.6,386) rotate(-45)" font-size="10.3" text-anchor="end">37</text>
<text x="79.3" y="304.4" font-size="5.6" text-anchor="middle" font-weight="normal" fill="#333" class="ns">*</text>
<text x="94.7" y="304.4" font-size="5.6" text-anchor="middle" font-weight="normal" fill="#333" class="ns">*</text>
<text x="140.7" y="287" font-size="4.8" text-anchor="middle" font-weight="normal" fill="#777" class="ns">**</text>
<text x="154.8" y="287.2" font-size="5.6" text-anchor="middle" font-weight="normal" fill="#333" class="ns">*</text>
<text x="46.4" y="424.9" font-size="13.8">[<tspan dy="-6.7" font-size="12.8">125</tspan><tspan dy="6.7">I-Udr] kBq/mL</tspan></text>
<rect x="179" y="314.9" width="7.8" height="3.5" fill="#000" stroke="#000" stroke-width="0.8"/>
<text x="189.7" y="319" font-size="8.4" text-anchor="start" font-weight="normal" fill="#000" >HL60</text>
<rect x="179" y="322.5" width="7.8" height="3.5" fill="#999999" stroke="#000" stroke-width="0.8"/>
<text x="189.7" y="326.6" font-size="8.4" text-anchor="start" font-weight="normal" fill="#000" >RA5</text>
<rect x="179" y="330.2" width="7.8" height="3.5" fill="#fff" stroke="#000" stroke-width="0.8"/>
<text x="189.7" y="334.3" font-size="8.4" text-anchor="start" font-weight="normal" fill="#000" >RG2</text>
<text x="262.4" y="265.1" font-size="17" text-anchor="start" font-weight="bold" fill="#000" >D</text>
<line x1="312.5" y1="266.4" x2="312.5" y2="376.8" stroke="#000" stroke-width="1.1" />
<line x1="309.5" y1="376.3" x2="442.8" y2="376.3" stroke="#000" stroke-width="1.1" />
<line x1="309.5" y1="376.3" x2="312.5" y2="376.3" stroke="#000" stroke-width="1" />
<text x="309.1" y="379.4" font-size="8.7" text-anchor="end" font-weight="normal" fill="#000" >0</text>
<line x1="309.5" y1="348.95" x2="312.5" y2="348.95" stroke="#000" stroke-width="1" />
<text x="309.1" y="352.05" font-size="8.7" text-anchor="end" font-weight="normal" fill="#000" >2</text>
<line x1="309.5" y1="321.6" x2="312.5" y2="321.6" stroke="#000" stroke-width="1" />
<text x="309.1" y="324.7" font-size="8.7" text-anchor="end" font-weight="normal" fill="#000" >4</text>
<line x1="309.5" y1="294.25" x2="312.5" y2="294.25" stroke="#000" stroke-width="1" />
<text x="309.1" y="297.35" font-size="8.7" text-anchor="end" font-weight="normal" fill="#000" >6</text>
<line x1="309.5" y1="266.9" x2="312.5" y2="266.9" stroke="#000" stroke-width="1" />
<text x="309.1" y="270" font-size="8.7" text-anchor="end" font-weight="normal" fill="#000" >8</text>
<text transform="translate(295.3,319.6) rotate(-90)" font-size="12" text-anchor="middle">% Uptake <tspan dy="-4.4" font-size="8.3">125</tspan><tspan dy="4.4" font-size="10.4" letter-spacing="0.6">I-dUdr</tspan></text>
<line x1="327.2" y1="311.21" x2="327.2" y2="316.13" stroke="#000" stroke-width="0.9" />
<line x1="324.4" y1="311.21" x2="330" y2="311.21" stroke="#000" stroke-width="0.9" />
<rect x="321.3" y="316.13" width="11.8" height="60.17" fill="#000" stroke="#000" stroke-width="1.05"/>
<line x1="345.1" y1="319.41" x2="345.1" y2="320.23" stroke="#000" stroke-width="0.9" />
<line x1="342.3" y1="319.41" x2="347.9" y2="319.41" stroke="#000" stroke-width="0.9" />
<rect x="339.3" y="320.23" width="11.6" height="56.07" fill="#999999" stroke="#000" stroke-width="1.05"/>
<line x1="363" y1="317.09" x2="363" y2="318.87" stroke="#000" stroke-width="0.9" />
<line x1="360.2" y1="317.09" x2="365.8" y2="317.09" stroke="#000" stroke-width="0.9" />
<rect x="357.2" y="318.87" width="11.6" height="57.44" fill="#fff" stroke="#000" stroke-width="1.05"/>
<line x1="392.6" y1="288.64" x2="392.6" y2="298.35" stroke="#000" stroke-width="0.9" />
<line x1="389.8" y1="288.64" x2="395.4" y2="288.64" stroke="#000" stroke-width="0.9" />
<rect x="386.9" y="298.35" width="11.4" height="77.95" fill="#000" stroke="#000" stroke-width="1.05"/>
<line x1="410.45" y1="304.78" x2="410.45" y2="307.1" stroke="#000" stroke-width="0.9" />
<line x1="407.65" y1="304.78" x2="413.25" y2="304.78" stroke="#000" stroke-width="0.9" />
<rect x="404.7" y="307.1" width="11.5" height="69.2" fill="#999999" stroke="#000" stroke-width="1.05"/>
<line x1="428.1" y1="283.45" x2="428.1" y2="293.7" stroke="#000" stroke-width="0.9" />
<line x1="425.3" y1="283.45" x2="430.9" y2="283.45" stroke="#000" stroke-width="0.9" />
<rect x="422.3" y="293.7" width="11.6" height="82.6" fill="#fff" stroke="#000" stroke-width="1.05"/>
<line x1="345.1" y1="376.3" x2="345.1" y2="379.9" stroke="#000" stroke-width="1" />
<line x1="410.6" y1="376.3" x2="410.6" y2="379.9" stroke="#000" stroke-width="1" />
<text transform="translate(347.5,387.5) rotate(-45)" font-size="11.6" text-anchor="end">24h</text>
<text transform="translate(412.9,387.5) rotate(-45)" font-size="11.6" text-anchor="end">48h</text>
<rect x="441.8" y="313" width="8.6" height="4.4" fill="#000" stroke="#000" stroke-width="0.8"/>
<text x="454" y="318.3" font-size="9.5" text-anchor="start" font-weight="normal" fill="#000" >HL60</text>
<rect x="441.8" y="321.6" width="8.6" height="4.4" fill="#999999" stroke="#000" stroke-width="0.8"/>
<text x="454" y="326.9" font-size="9.5" text-anchor="start" font-weight="normal" fill="#000" >RA5</text>
<rect x="441.8" y="330.2" width="8.6" height="4.4" fill="#fff" stroke="#000" stroke-width="0.8"/>
<text x="454" y="335.5" font-size="9.5" text-anchor="start" font-weight="normal" fill="#000" >RG2</text>
</svg>
</body>
</html>
